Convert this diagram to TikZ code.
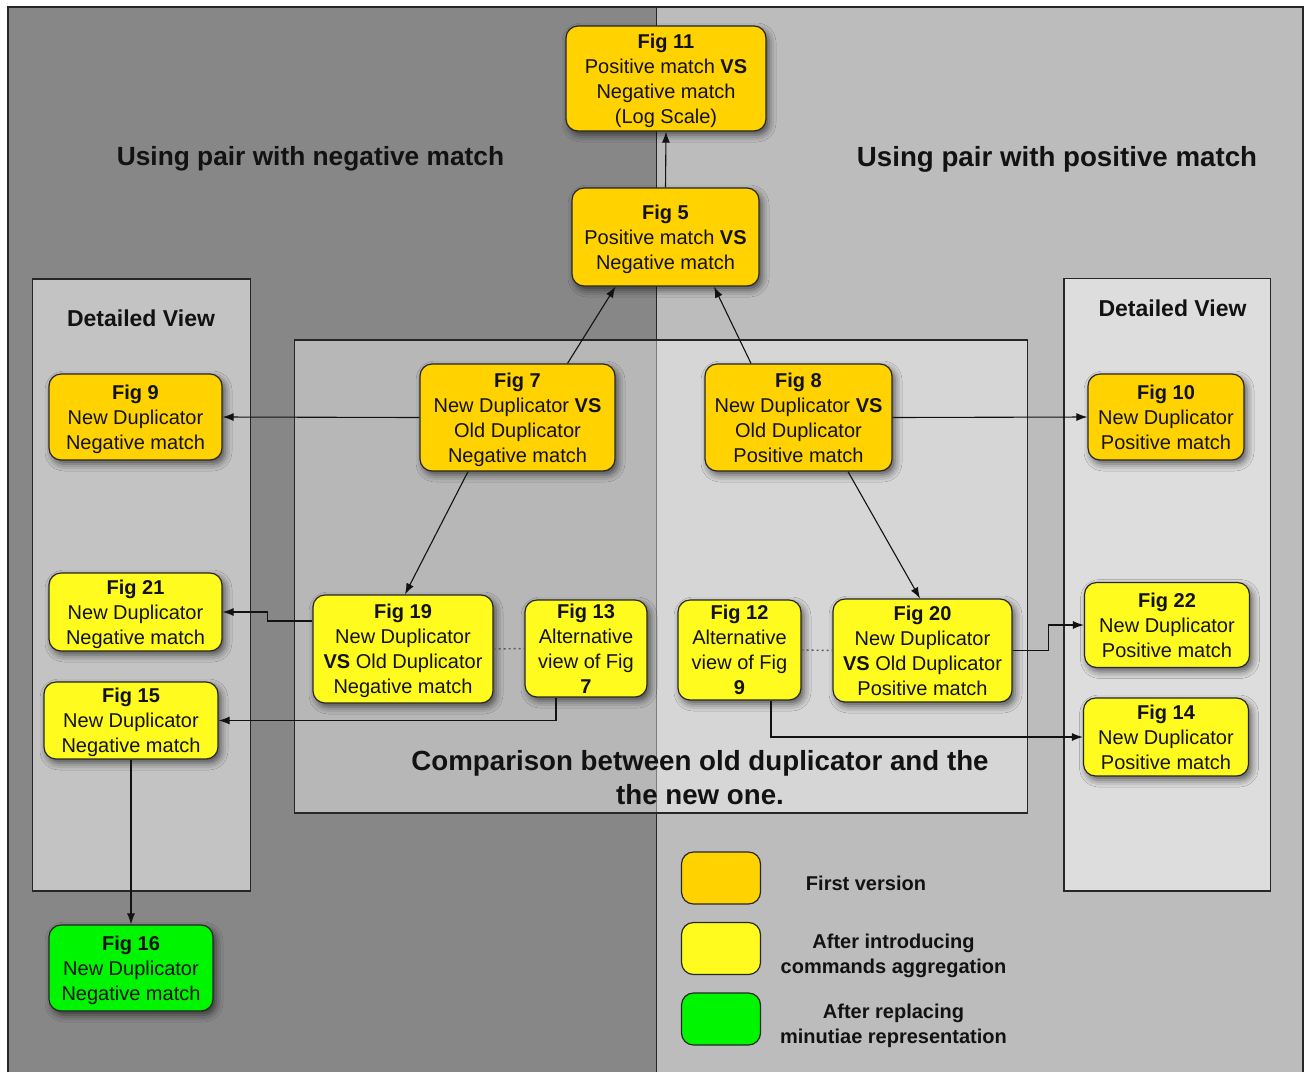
\documentclass[tikz,border=0pt]{standalone}
\usepackage{fontspec}
\setmainfont{Liberation Sans}
\usetikzlibrary{arrows.meta,shadows.blur}

\definecolor{firstver}{RGB}{255,210,0}
\definecolor{aggver}{RGB}{255,251,30}
\definecolor{minver}{RGB}{0,245,0}
\definecolor{negside}{RGB}{135,135,135}
\definecolor{posside}{RGB}{188,188,188}
\definecolor{ink}{RGB}{18,18,18}
\definecolor{rim}{RGB}{38,38,38}

\tikzset{
  fig/.style={draw=rim, line width=1.2pt, rounded corners=12pt, align=center,
    inner sep=0pt, text=ink, font=\fontsize{20}{25}\selectfont, text depth=0pt,
    blur shadow={shadow xshift=3pt, shadow yshift=-4pt,
      shadow blur radius=7pt, shadow opacity=60}},
  v1/.style={fig, fill=firstver},
  v2/.style={fig, fill=aggver},
  v3/.style={fig, fill=minver},
  swatch/.style={draw=rim, line width=1.2pt, rounded corners=12pt, inner sep=0pt,
    minimum width=79pt, minimum height=52pt},
  link/.style={draw=ink, line width=1.1pt, -{Latex[length=11pt,width=8pt]}},
  dotlink/.style={draw=ink!70, line width=1.4pt, dash pattern=on 2pt off 3pt},
  region/.style={draw=rim, line width=1.2pt},
  heading/.style={font=\bfseries\fontsize{26.3}{30}\selectfont, text=ink, inner sep=0pt},
  subhead/.style={font=\bfseries\fontsize{23}{27}\selectfont, text=ink, inner sep=0pt},
  bighead/.style={font=\bfseries\fontsize{27.7}{34}\selectfont, text=ink, inner sep=0pt, align=center},
  legendtext/.style={font=\bfseries\fontsize{20}{25}\selectfont, text=ink, inner sep=0pt, align=center},
}

\begin{document}
\begin{tikzpicture}[x=1pt, y=-1pt]
  \useasboundingbox (0,0) rectangle (1306,1072);
  \fill[white] (0,0) rectangle (1306,1072);

  % the two halves of the sheet
  \fill[negside] (8,7) rectangle (656.5,1072);
  \fill[posside] (656.5,7) rectangle (1303,1072);
  \draw[rim, line width=1.2pt] (656.5,7) -- (656.5,1072);
  \draw[rim, line width=1.4pt] (8,1072) -- (8,7) -- (1303,7) -- (1303,1072);

  % comparison area and the two detail panels
  \draw[region, fill=white, fill opacity=0.4] (294.5,340) rectangle (1027.5,813);
  \draw[region, fill=white, fill opacity=0.5] (32.5,279) rectangle (250.5,891);
  \draw[region, fill=white, fill opacity=0.5] (1064,278.5) rectangle (1270.5,891);

  % headings
  \node[heading] (negtitle) at (310.5,159) {Using pair with negative match};
  \node[bighead] (postitle) at (1057,159) {Using pair with positive match};
  \node[subhead] (negdetail) at (141,318.5) {Detailed View};
  \node[subhead] (posdetail) at (1172.5,308.5) {Detailed View};
  \node[bighead] (comptitle) at (700,778) {Comparison between old duplicator and the\\the new one.};

  % figures
  \node[v1, minimum width=200pt, minimum height=105pt] (f11) at (666,78.5)
    {\textbf{Fig 11}\\Positive match \textbf{VS}\\Negative match\\(Log Scale)};
  \node[v1, minimum width=187pt, minimum height=98pt] (f5) at (665.5,237)
    {\textbf{Fig 5}\\Positive match \textbf{VS}\\Negative match};
  \node[v1, minimum width=195pt, minimum height=107pt] (f7) at (517.5,417.5)
    {\textbf{Fig 7}\\New Duplicator \textbf{VS}\\Old Duplicator\\Negative match};
  \node[v1, minimum width=187pt, minimum height=107pt] (f8) at (798.5,417.5)
    {\textbf{Fig 8}\\New Duplicator \textbf{VS}\\Old Duplicator\\Positive match};
  \node[v1, minimum width=173pt, minimum height=86pt] (f9) at (135.5,417)
    {\textbf{Fig 9}\\New Duplicator\\Negative match};
  \node[v1, minimum width=156pt, minimum height=86pt] (f10) at (1166,417)
    {\textbf{Fig 10}\\New Duplicator\\Positive match};
  \node[v2, minimum width=173pt, minimum height=78pt] (f21) at (135.5,612)
    {\textbf{Fig 21}\\New Duplicator\\Negative match};
  \node[v2, minimum width=174pt, minimum height=77pt] (f15) at (131,720.5)
    {\textbf{Fig 15}\\New Duplicator\\Negative match};
  \node[v2, minimum width=180pt, minimum height=108pt] (f19) at (403,649)
    {\textbf{Fig 19}\\New Duplicator\\\textbf{VS} Old Duplicator\\Negative match};
  \node[v2, minimum width=122pt, minimum height=97pt] (f13) at (586,648.5)
    {\textbf{Fig 13}\\Alternative\\view of Fig\\\textbf{7}};
  \node[v2, minimum width=123pt, minimum height=100pt] (f12) at (739.5,650)
    {\textbf{Fig 12}\\Alternative\\view of Fig\\\textbf{9}};
  \node[v2, minimum width=179pt, minimum height=103pt] (f20) at (922.5,650.5)
    {\textbf{Fig 20}\\New Duplicator\\\textbf{VS} Old Duplicator\\Positive match};
  \node[v2, minimum width=165pt, minimum height=85pt] (f22) at (1167,625)
    {\textbf{Fig 22}\\New Duplicator\\Positive match};
  \node[v2, minimum width=165pt, minimum height=78pt] (f14) at (1166,737)
    {\textbf{Fig 14}\\New Duplicator\\Positive match};
  \node[v3, minimum width=164pt, minimum height=86pt] (f16) at (131,968)
    {\textbf{Fig 16}\\New Duplicator\\Negative match};

  % legend
  \node[swatch, fill=firstver] (keyfirst) at (721,878) {};
  \node[swatch, fill=aggver] (keyagg) at (721,948.5) {};
  \node[swatch, fill=minver] (keymin) at (721,1019) {};
  \node[legendtext] (txtfirst) at (866,883) {First version};
  \node[legendtext] (txtagg) at (893.5,956) {After introducing\\commands aggregation};
  \node[legendtext] (txtmin) at (893.5,1026) {After replacing\\minutiae representation};

  % connectors
  \draw[link] (f5.north) -- (f11.south);
  \draw[link] ([xshift=50pt]f7.north) -- ([xshift=-50pt]f5.south);
  \draw[link] ([xshift=-47.5pt]f8.north) -- ([xshift=48.5pt]f5.south);
  \draw[link] (f7.west) -- (f9.east);
  \draw[link] (f8.east) -- (f10.west);
  \draw[link] ([xshift=-49.5pt]f7.south) -- ([xshift=2pt]f19.north);
  \draw[link] ([xshift=49.5pt]f8.south) -- ([xshift=-2.5pt]f20.north);
  \draw[link] ([yshift=28pt]f19.west) -- ++(-45,0) |- (f21.east);
  \draw[link] ([xshift=-30pt]f13.south) |- (f15.east);
  \draw[link] ([xshift=31.5pt]f12.south) |- (f14.west);
  \draw[link] (f20.east) -- ++(36,0) |- (f22.west);
  \draw[link] (f15.south) -- (f16.north);
  \draw[dotlink] (f19.east) -- (f13.west);
  \draw[dotlink] (f12.east) -- (f20.west);
\end{tikzpicture}
\end{document}
